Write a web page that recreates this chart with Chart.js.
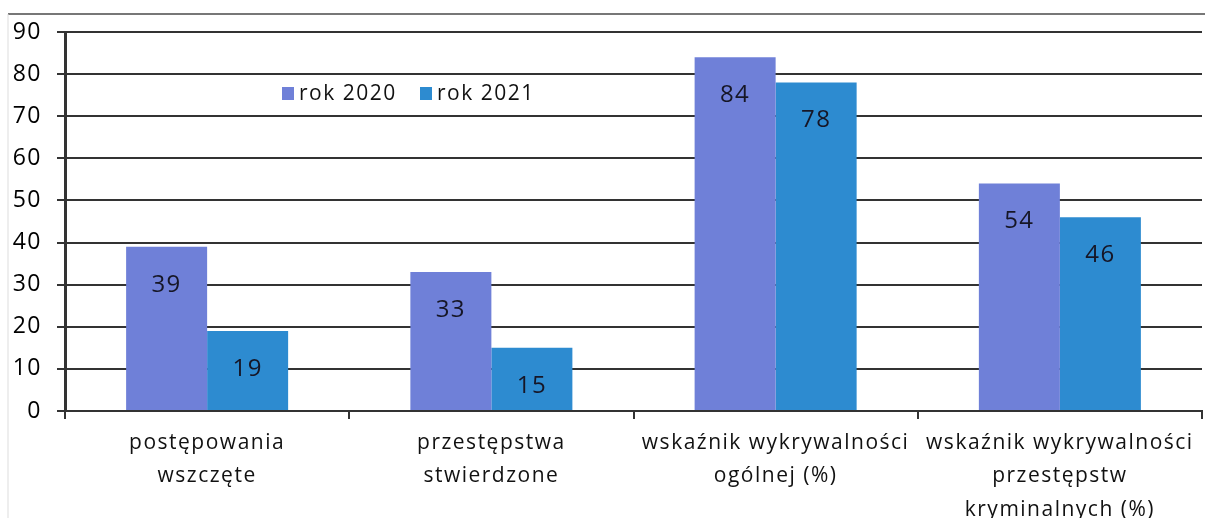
<!DOCTYPE html>
<html>
<head>
<meta charset="utf-8">
<script src="https://cdn.jsdelivr.net/npm/chart.js@4/dist/chart.umd.min.js"></script>
<style>
  html, body { margin: 0; padding: 0; background: #fff; }
  #wrap { width: 1205px; height: 518px; position: relative; }
</style>
</head>
<body>
<div id="wrap"><canvas id="barChart"></canvas></div>
<script>
// data
var categories = [
  ["postępowania", "wszczęte"],
  ["przestępstwa", "stwierdzone"],
  ["wskaźnik wykrywalności", "ogólnej (%)"],
  ["wskaźnik wykrywalności", "przestępstw", "kryminalnych (%)"]
];
var seriesNames = ["rok 2020", "rok 2021"];
var values2020 = [39, 33, 84, 54];
var values2021 = [19, 15, 78, 46];
var yTicks = [0, 10, 20, 30, 40, 50, 60, 70, 80, 90];

var colors = ["#6f80d8", "#2d8bd0"];
var font = "'Open Sans', Lato, sans-serif";

//labels inside bars + legend + frame line
var extras = {
  id: "extras",
  beforeDraw: function (chart) {
    chart.ctx.letterSpacing = "1.5px";
  },
  afterDatasetsDraw: function (chart) {
    var ctx = chart.ctx;
    ctx.save();
    ctx.letterSpacing = "1.5px";
    ctx.fillStyle = "#161626";
    ctx.font = "24px " + font;
    ctx.textAlign = "center";
    ctx.textBaseline = "middle";
    chart.data.datasets.forEach(function (ds, i) {
      chart.getDatasetMeta(i).data.forEach(function (bar, j) {
        ctx.fillText(ds.data[j], bar.x, bar.y + 38);
      });
    });

    // legend
    var area = chart.chartArea;
    var lx = area.left + 217, ly = area.top + 61;
    ctx.font = "21px " + font;
    ctx.textAlign = "left";
    ctx.fillStyle = "#fff";
    ctx.fillRect(lx - 6, ly - 14, 262, 28);
    seriesNames.forEach(function (name, i) {
      var x = lx + i * 138;
      ctx.fillStyle = colors[i];
      ctx.fillRect(x, ly - 6, 12, 13);
      ctx.fillStyle = "#111";
      ctx.fillText(name, x + 17, ly + 1);
    });

    // frame line at top
    ctx.strokeStyle = "#777";
    ctx.lineWidth = 2;
    ctx.beginPath();
    ctx.moveTo(8, 14);
    ctx.lineTo(1205, 14);
    ctx.stroke();
    ctx.strokeStyle = "#ddd";
    ctx.lineWidth = 1;
    ctx.beginPath();
    ctx.moveTo(8, 14);
    ctx.lineTo(8, 518);
    ctx.stroke();
    ctx.restore();
  }
};

var ctxB = document.getElementById("barChart").getContext("2d");
var myBarChart = new Chart(ctxB, {
  type: "bar",
  data: {
    labels: categories,
    datasets: [
      {
        label: seriesNames[0],
        data: values2020,
        backgroundColor: colors[0],
        categoryPercentage: 0.57,
        barPercentage: 1.0
      },
      {
        label: seriesNames[1],
        data: values2021,
        backgroundColor: colors[1],
        categoryPercentage: 0.57,
        barPercentage: 1.0
      }
    ]
  },
  options: {
    responsive: true,
    maintainAspectRatio: false,
    animation: false,
    layout: { padding: { top: 32, right: 3, left: 0, bottom: 0 } },
    plugins: {
      legend: { display: false },
      tooltip: { enabled: false }
    },
    scales: {
      x: {
        afterFit: function (scale) { scale.height = 107; },
        grid: {
          offset: true,
          drawOnChartArea: false,
          color: "#333",
          lineWidth: 2,
          tickLength: 8
        },
        border: { color: "#333", width: 2 },
        ticks: {
          color: "#111",
          font: { family: font, size: 21, lineHeight: 1.6 },
          padding: 7,
          maxRotation: 0,
          autoSkip: false
        }
      },
      y: {
        min: 0,
        max: 90,
        afterFit: function (scale) { scale.width = 65; },
        afterBuildTicks: function (scale) {
          scale.ticks = yTicks.map(function (v) { return { value: v }; });
        },
        grid: {
          color: "#333",
          lineWidth: 2,
          tickLength: 8
        },
        border: { color: "#333", width: 3 },
        ticks: {
          color: "#000",
          font: { family: font, size: 23 },
          padding: 15
        }
      }
    }
  },
  plugins: [extras]
});
</script>
</body>
</html>
